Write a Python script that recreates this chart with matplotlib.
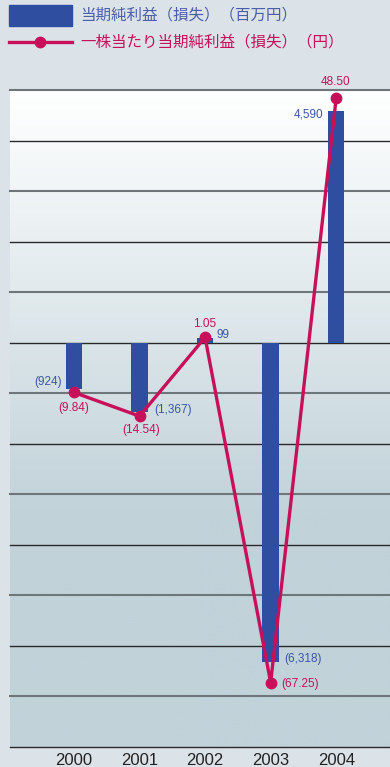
import numpy as np
import matplotlib
matplotlib.use("Agg")
import matplotlib.pyplot as plt
from matplotlib.patches import Rectangle
from matplotlib.lines import Line2D

plt.rcParams['font.family'] = ['Liberation Sans', 'Noto Sans CJK JP', 'DejaVu Sans']

years = ['2000', '2001', '2002', '2003', '2004']
net_income = [-924, -1367, 99, -6318, 4590]          # 百万円
eps = [-9.84, -14.54, 1.05, -67.25, 48.50]           # 円
income_labels = ['(924)', '(1,367)', '99', '(6,318)', '4,590']
eps_labels = ['(9.84)', '(14.54)', '1.05', '(67.25)', '48.50']

bar_color = '#2f4ea0'
line_color = '#c8105a'
bg = '#dbe2e8'

fig = plt.figure(figsize=(3.9, 7.67), dpi=100, facecolor=bg)
ax = fig.add_axes([10 / 390, 20 / 767, 380 / 390, 657 / 767])
x = np.arange(len(years))
ax.set_xlim(-0.975, 4.82)
ax.set_ylim(-8000, 5000)

# gradient background: white at top, flat blue-grey from ~2/3 down
t = np.clip(np.linspace(0, 1, 256) / 0.65, 0, 1).reshape(-1, 1, 1)
top = np.array([1.0, 1.0, 1.0])
bot = np.array([0xc1, 0xd2, 0xd9]) / 255
img = top + (bot - top) * t * np.ones((1, 1, 3))
ax.imshow(img, aspect='auto', extent=[-0.975, 4.82, -8000, 5000], zorder=0)

for yv in range(-8000, 5001, 1000):
    if (yv // 1000) % 2 == 0:
        ax.axhline(yv, color='#2a2a2a', lw=1.0, zorder=1, clip_on=False)
    else:
        ax.axhline(yv, color='#6f767a', lw=1.5, zorder=1, clip_on=False)

ax.bar(x, net_income, width=0.25, color=bar_color, zorder=2)

ax2 = ax.twinx()
ax2.set_ylim(-80, 50)
ax2.plot(x, eps, color=line_color, lw=2.4, marker='o', markersize=7.5, zorder=3)

for a in (ax, ax2):
    for s in a.spines.values():
        s.set_visible(False)
    a.set_yticks([])
ax.set_xticks(x)
ax.set_xticklabels(years, fontsize=12, color='#222222')
ax.tick_params(axis='x', length=0, pad=4)

# bar value labels (anchor point, offset in pixels, alignment)
bar_anchor = [(-0.125, -924, (-4, 7), 'right'),
              (0.125, -1367, (7, 2), 'left'),
              (0.125, 99, (3, 3), 'left'),
              (0.125, -6318, (5, 3), 'left'),
              (-0.125, 4590, (-5, -4), 'right')]
for i, (dx, yv, off, ha) in enumerate(bar_anchor):
    ax.annotate(income_labels[i], (x[i] + dx, yv), xytext=off, textcoords='offset pixels',
                ha=ha, va='center', fontsize=8.5, color='#3a56a8', zorder=5)

eps_off = [((0, -16), 'center'), ((2, -14), 'center'), ((0, 13), 'center'),
           ((11, -1), 'left'), ((-1, 16), 'center')]
for i, (off, ha) in enumerate(eps_off):
    ax2.annotate(eps_labels[i], (x[i], eps[i]), xytext=off, textcoords='offset pixels',
                 ha=ha, va='center', fontsize=8.5, color=line_color, zorder=5)

# legend
W, H = 390, 767
fig.patches.append(Rectangle((9 / W, 1 - 25.7 / H), 63 / W, 20.7 / H,
                             transform=fig.transFigure, color=bar_color))
fig.lines.append(Line2D([9 / W, 72 / W], [1 - 42 / H] * 2, transform=fig.transFigure,
                        color=line_color, lw=2.4))
fig.lines.append(Line2D([40 / W], [1 - 42 / H], transform=fig.transFigure, marker='o',
                        markersize=7.5, color=line_color))
fig.text(80 / W, 1 - 15 / H, '当期純利益（損失）（百万円）', fontsize=11.2,
         family=['Noto Sans CJK JP'], color='#4a5fa8', va='center')
fig.text(80 / W, 1 - 42.5 / H, '一株当たり当期純利益（損失）（円）', fontsize=11.2,
         family=['Noto Sans CJK JP'], color=line_color, va='center')

fig.savefig('out.png', dpi=100, facecolor=bg)
